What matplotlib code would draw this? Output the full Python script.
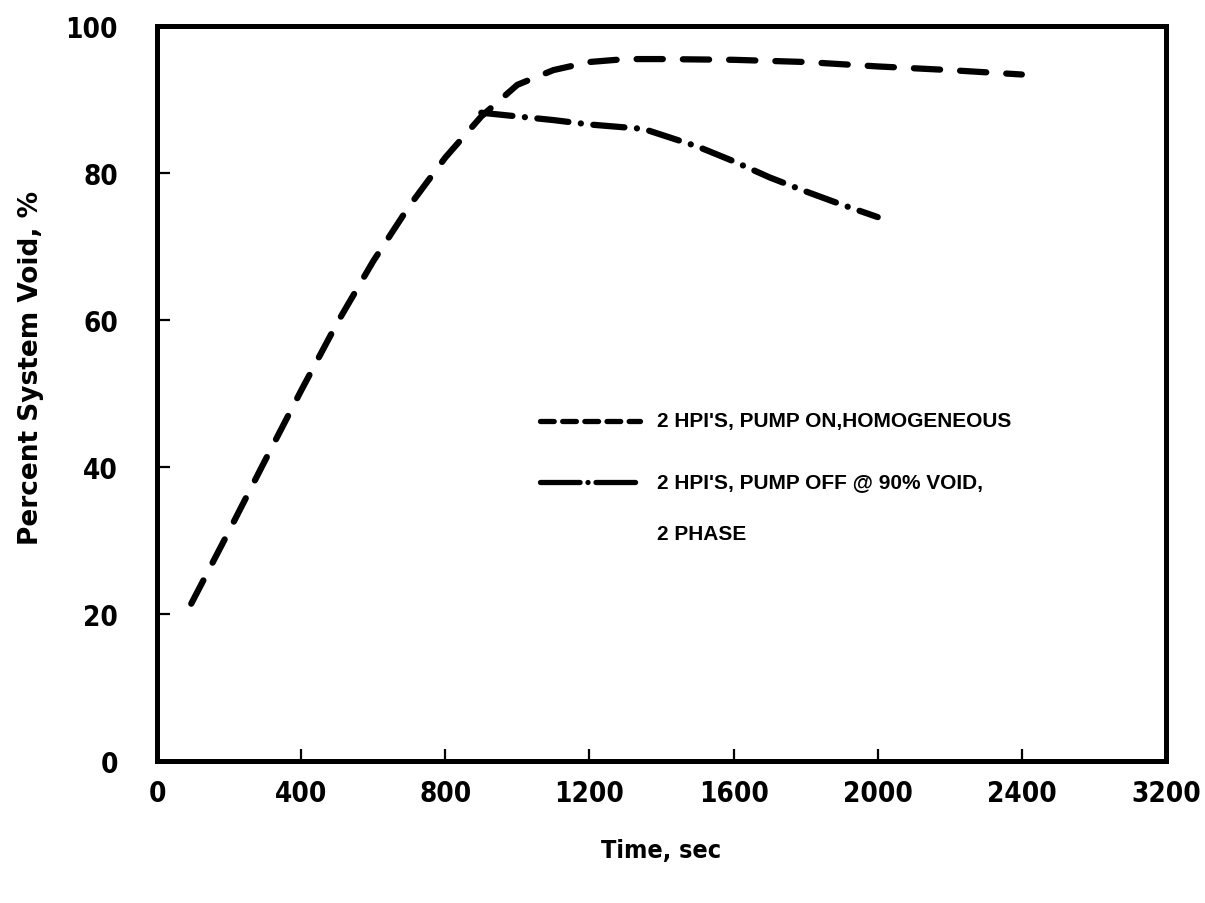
import matplotlib
matplotlib.use("Agg")
import matplotlib.pyplot as plt

# dashed curve: 2 HPI's, pump on, homogeneous
t_on = [95, 200, 300, 400, 500, 600, 700, 800, 900, 1000, 1100, 1200,
        1300, 1400, 1600, 1800, 2000, 2200, 2400]
void_on = [21.4, 31.3, 40.9, 50.4, 59.6, 68.0, 75.5, 82.1, 87.7, 92.0, 94.0, 95.1,
           95.5, 95.5, 95.4, 95.1, 94.5, 94.0, 93.4]

# dash-dot curve: 2 HPI's, pump off @ 90% void, 2 phase
t_off = [900, 1000, 1100, 1200, 1350, 1500, 1600, 1700, 1800, 1900, 2000]
void_off = [88.2, 87.7, 87.2, 86.6, 86.0, 83.6, 81.6, 79.4, 77.5, 75.7, 74.0]

xticks = [0, 400, 800, 1200, 1600, 2000, 2400, 2800]
xticklabels = ['0', '400', '800', '1200', '1600', '2000', '2400', '3200']
yticks = [0, 20, 40, 60, 80, 100]

label_on = "2 HPI'S, PUMP ON,HOMOGENEOUS"
label_off = "2 HPI'S, PUMP OFF @ 90% VOID,"
label_off2 = "2 PHASE"

narrow = dict(family=['DejaVu Sans'], stretch='condensed', weight='bold')
wide = dict(family=['Liberation Sans', 'DejaVu Sans'], weight='bold')

fig = plt.figure(figsize=(12.05, 9.04), dpi=100)
ax = fig.add_axes([157 / 1205, 1 - 762 / 904, 1009 / 1205, 735 / 904])

lw = 4.5
ax.plot(t_on, void_on, color='black', linewidth=lw, dashes=(4.2, 3.2),
        dash_capstyle='round', solid_capstyle='round')
ax.plot(t_off, void_off, color='black', linewidth=lw, dashes=(5.0, 2.0, 0.01, 2.0),
        dash_capstyle='round', solid_capstyle='round')

ax.set_xlim(0, 2800)
ax.set_ylim(0, 100)
ax.set_xticks(xticks)
ax.set_xticklabels(xticklabels)
ax.set_yticks(yticks)
ax.tick_params(direction='in', length=9, width=1.6, top=False, right=False)
ax.tick_params(axis='x', pad=13)
ax.tick_params(axis='y', pad=28)
for lab in ax.get_xticklabels() + ax.get_yticklabels():
    lab.set(**narrow)
    lab.set_fontsize(20)
for sp in ax.spines.values():
    sp.set_linewidth(3.6)

ax.set_xlabel('Time, sec', fontsize=18, **narrow)
ax.xaxis.set_label_coords(0.5, -0.105)
ax.set_ylabel('Percent System Void, %', family=['DejaVu Sans'], weight='bold',
              fontsize=19)
ax.yaxis.set_label_coords(-0.112, 0.536)

# hand-drawn style legend, no frame
ax.plot([0.380, 0.479], [0.463, 0.463], transform=ax.transAxes, color='black',
        linewidth=3.8, dashes=(2.6, 1.6), dash_capstyle='round')
ax.plot([0.380, 0.479], [0.380, 0.380], transform=ax.transAxes, color='black',
        linewidth=3.8, dashes=(7.5, 1.5, 0.01, 1.5), dash_capstyle='round')
ax.text(0.496, 0.463, label_on, transform=ax.transAxes, va='center', ha='left',
        fontsize=15, **wide)
ax.text(0.496, 0.380, label_off, transform=ax.transAxes, va='center', ha='left',
        fontsize=15, **wide)
ax.text(0.496, 0.309, label_off2, transform=ax.transAxes, va='center', ha='left',
        fontsize=15, **wide)

fig.savefig('out.png', dpi=100)
